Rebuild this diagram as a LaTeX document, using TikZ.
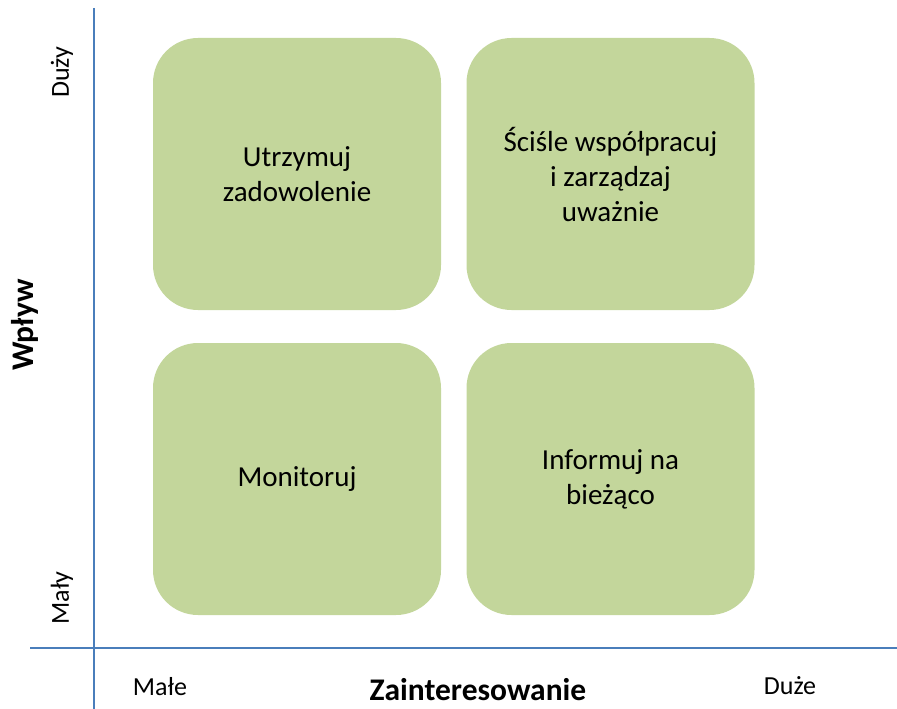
\documentclass[tikz,border=0pt]{standalone}
\usepackage{fontspec}
\setmainfont{Carlito}
\definecolor{boxgreen}{HTML}{C3D69B}
\definecolor{axisblue}{HTML}{4A7EBB}
\tikzset{
  quad/.style={fill=boxgreen, rounded corners=45pt, minimum width=288pt, minimum height=272pt,
    align=center, inner sep=0pt, font=\fontsize{29}{35}\selectfont},
  axisline/.style={axisblue, line width=1.5pt},
  small/.style={font=\fontsize{26}{31}\selectfont},
  big/.style={font=\fontsize{31.5}{37}\selectfont\bfseries}
}
\begin{document}
\begin{tikzpicture}[x=1pt,y=-1pt]
\useasboundingbox (0,0) rectangle (897,709);

% axes
\coordinate (ytop) at (94,8);
\coordinate (ybot) at (94,709);
\coordinate (xleft) at (30,648);
\coordinate (xright) at (897,648);
\draw[axisline] (ytop) -- (ybot);
\draw[axisline] (xleft) -- (xright);

% four boxes
\node[quad] (tl) at (297,174) {Utrzymuj\\zadowolenie};
\node[quad] (tr) at (610.5,174) {Ściśle współpracuj\\i zarządzaj\\uważnie};
\node[quad] (bl) at (297,479) {Monitoruj};
\node[quad] (br) at (610.5,479) {Informuj na\\bieżąco};

% axis labels
\node[small, rotate=90] (duzy) at (62,72) {Duży};
\node[small, rotate=90] (maly) at (62,598) {Mały};
\node[big, rotate=90] (wplyw) at (25,325) {Wpływ};
\node[small] (male) at (160,687) {Małe};
\node[small] (duze) at (790,686) {Duże};
\node[big] (zaint) at (478,690) {Zainteresowanie};
\end{tikzpicture}
\end{document}
